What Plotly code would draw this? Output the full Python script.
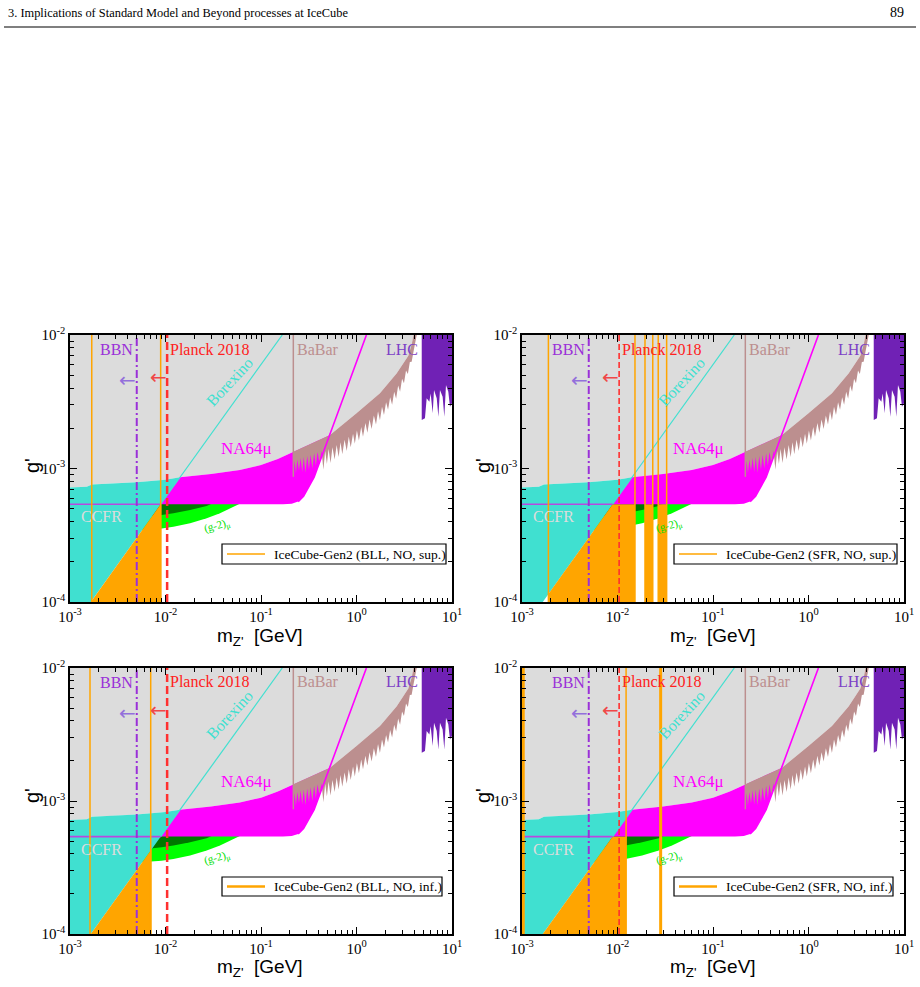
import math
import plotly.graph_objects as go

# ------------------------------------------------------------------ data
# boundaries (m_Z' in GeV, g')
ccfr_top_m = [1e-3, 1.5e-3, 1.7e-3, 3e-3, 5e-3, 0.01, 0.0142]
ccfr_top_g = [7.2e-4, 7.3e-4, 7.6e-4, 7.75e-4, 7.9e-4, 8.25e-4, 8.6e-4]

diag_m = [1.65e-3, 8.9e-3, 0.0142, 0.167]          # CCFR / Borexino edge
diag_g = [1e-4, 5.4e-4, 8.6e-4, 1e-2]

na64_top_m = [0.0142, 0.03, 0.06, 0.1, 0.15, 0.218]
na64_top_g = [8.6e-4, 9.1e-4, 9.75e-4, 1.06e-3, 1.18e-3, 1.336e-3]
na64_floor_m = [8.9e-3, 0.17, 0.21]
na64_floor_g = [5.4e-4, 5.4e-4, 5.45e-4]
na64_line_m = [0.245, 0.279, 0.36, 0.45, 0.528, 0.7, 0.9, 1.27]
na64_line_g = [5.65e-4, 6.2e-4, 8.6e-4, 1.33e-3, 1.85e-3, 3.2e-3, 5.2e-3, 1e-2]
na64_lowline_m = [1e-3, 8.9e-3]
na64_lowline_g = [5.4e-4, 5.4e-4]

babar_top_m = [0.218, 0.3, 0.4, 0.528, 1.0, 1.76, 2.64, 3.49, 3.8, 3.95]
babar_top_g = [1.336e-3, 1.48e-3, 1.63e-3, 1.78e-3, 2.59e-3, 3.66e-3, 5.16e-3, 7.0e-3, 8.6e-3, 1e-2]
babar_low_m = [0.218, 0.225, 0.232, 0.24, 0.25, 0.26, 0.27, 0.28, 0.292, 0.305, 0.318,
               0.33, 0.345, 0.36, 0.375, 0.39, 0.41, 0.43, 0.45, 0.47, 0.49, 0.51, 0.535,
               0.56, 0.59, 0.62, 0.65, 0.68, 0.71, 0.75, 0.79, 0.83, 0.87, 0.92, 0.96,
               1.01, 1.06, 1.12, 1.17, 1.24, 1.3, 1.37, 1.44, 1.52, 1.6, 1.68, 1.76,
               1.85, 1.94, 2.04, 2.14, 2.25, 2.36, 2.48, 2.6, 2.73, 2.86, 3.0, 3.14,
               3.3, 3.45, 3.62, 3.78, 3.95, 4.1, 4.27]
babar_low_g = [8.66e-4, 1.15e-3, 9.2e-4, 1.17e-3, 9.6e-4, 1.2e-3, 9.4e-4, 1.22e-3,
               9.3e-4, 1.24e-3, 9.8e-4, 1.27e-3, 1.0e-3, 1.3e-3, 1.05e-3, 1.33e-3,
               1.1e-3, 1.37e-3, 0.98e-3, 1.35e-3, 1.08e-3, 1.4e-3, 1.1e-3, 1.44e-3,
               1.17e-3, 1.5e-3, 1.22e-3, 1.57e-3, 1.28e-3, 1.64e-3, 1.35e-3, 1.73e-3,
               1.44e-3, 1.82e-3, 1.53e-3, 1.93e-3, 1.62e-3, 2.05e-3, 1.73e-3, 2.19e-3,
               1.85e-3, 2.33e-3, 1.98e-3, 2.49e-3, 2.14e-3, 2.68e-3, 2.3e-3, 2.9e-3,
               2.52e-3, 3.14e-3, 2.75e-3, 3.42e-3, 3.0e-3, 3.75e-3, 3.33e-3, 4.18e-3,
               3.75e-3, 4.7e-3, 4.35e-3, 5.42e-3, 5.1e-3, 6.27e-3, 6.3e-3, 7.5e-3,
               8.8e-3, 1e-2]
babar_line_m = [0.218, 0.218]
babar_line_g = [8.66e-4, 1e-2]

lhc_m = [4.82, 10, 10, 9.52, 9.15, 8.65, 8.31, 7.98, 7.48, 7.2, 6.92, 6.48, 6.28,
         5.98, 5.79, 5.43, 5.21, 4.82]
lhc_g = [1e-2, 1e-2, 3.08e-3, 2.9e-3, 3.76e-3, 4.22e-3, 2.44e-3, 3.45e-3, 3.87e-3,
         2.44e-3, 3.36e-3, 3.87e-3, 2.59e-3, 3.65e-3, 3.16e-3, 3.36e-3, 2.38e-3, 2.31e-3]

g2_light_m = [1e-3, 5e-3, 9.12e-3, 0.0121, 0.0181, 0.027, 0.0372, 0.0473, 0.0557, 0.06, 1e-3]
g2_light_g = [3.4e-4, 3.45e-4, 3.56e-4, 3.66e-4, 3.89e-4, 4.24e-4, 4.62e-4, 5.03e-4,
              5.33e-4, 5.45e-4, 5.45e-4]
g2_dark_m = [1e-3, 7e-3, 9.12e-3, 0.0121, 0.0181, 0.027, 0.0304, 1e-3]
g2_dark_g = [4.3e-4, 4.4e-4, 4.49e-4, 4.62e-4, 4.89e-4, 5.24e-4, 5.45e-4, 5.45e-4]

bbn_m = 5.0e-3
planck_m = 0.0104

# IceCube-Gen2 sensitivities, one per panel
p1_label = "IceCube-Gen2 (BLL, NO, sup.)"
p1_lines_m = [1.69e-3, 8.9e-3]
p1_thick_m = []
p1_fill_m = [1.69e-3, 1.69e-3, 8.9e-3, 9.05e-3, 9.05e-3]
p1_fill_g = [1e-4, 1.02e-4, 5.4e-4, 5.4e-4, 1e-4]

p2_label = "IceCube-Gen2 (SFR, NO, sup.)"
p2_lines_m = [1.89e-3, 0.01524, 0.0194, 0.0234, 0.0267, 0.0327]
p2_thick_m = []
p2_fill_m = [1.89e-3, 1.89e-3, 8.9e-3, 0.01524, 0.01524, None,
             0.0194, 0.0194, 0.0234, 0.0234, None,
             0.0267, 0.0267, 0.0327, 0.0327]
p2_fill_g = [1e-4, 1.15e-4, 5.4e-4, 5.4e-4, 1e-4, None,
             1e-4, 5.4e-4, 5.4e-4, 1e-4, None,
             1e-4, 5.4e-4, 5.4e-4, 1e-4]

p3_label = "IceCube-Gen2 (BLL, NO, inf.)"
p3_lines_m = [1.62e-3, 7.0e-3]
p3_thick_m = []
p3_fill_m = [1.65e-3, 7.15e-3, 7.15e-3]
p3_fill_g = [1e-4, 4.33e-4, 1e-4]

p4_label = "IceCube-Gen2 (SFR, NO, inf.)"
p4_lines_m = [0.0123]
p4_thick_m = [1.03e-3, 0.0283]
p4_fill_m = [1.65e-3, 8.9e-3, 0.0124, 0.0124]
p4_fill_g = [1e-4, 5.4e-4, 5.4e-4, 1e-4]

x_tickvals = [1e-3, 1e-2, 1e-1, 1, 10]
x_ticktext = ["10<sup>-3</sup>", "10<sup>-2</sup>", "10<sup>-1</sup>", "10<sup>0</sup>", "10<sup>1</sup>"]
y_tickvals = [1e-4, 1e-3, 1e-2]
y_ticktext = ["10<sup>-4</sup>", "10<sup>-3</sup>", "10<sup>-2</sup>"]

# ------------------------------------------------------------------ style
W, H = 920, 987
GRAY = "#dcdcdc"
CYAN = "#40e0d0"
MAG = "#ff00ff"
ORANGE = "#ffa500"
LGREEN = "#00ff00"
DGREEN = "#007800"
BROWN = "#bc8f8f"
LHCCOL = "#7021b5"
SERIF = "Liberation Serif"
SANS = "Liberation Sans"

panels = [
    dict(label=p1_label, lines=p1_lines_m, thick=p1_thick_m, fm=p1_fill_m, fg=p1_fill_g,
         pw=2.5, dash="8px,4px", legw=1.5),
    dict(label=p2_label, lines=p2_lines_m, thick=p2_thick_m, fm=p2_fill_m, fg=p2_fill_g,
         pw=1.6, dash="6px,3px", legw=1.5),
    dict(label=p3_label, lines=p3_lines_m, thick=p3_thick_m, fm=p3_fill_m, fg=p3_fill_g,
         pw=2.5, dash="8px,4px", legw=2.5),
    dict(label=p4_label, lines=p4_lines_m, thick=p4_thick_m, fm=p4_fill_m, fg=p4_fill_g,
         pw=1.6, dash="6px,3px", legw=2.5),
]
ids = ["", "2", "3", "4"]
x_dom = [[70 / W, 452 / W], [522 / W, 904 / W], [70 / W, 452 / W], [522 / W, 904 / W]]
y_dom = [[1 - 602 / H, 1 - 335 / H], [1 - 602 / H, 1 - 335 / H],
         [1 - 934 / H, 1 - 668 / H], [1 - 934 / H, 1 - 668 / H]]
# legend boxes in pixels: left, top, right, bottom
legend_box = [(222, 544, 446, 564), (674, 544, 897, 564),
              (222, 877, 442, 896), (674, 877, 893, 896)]
ytitle_pos = [(32, 466), (483, 466), (32, 796), (483, 796)]
xtitle_pos = [(260, 637), (713, 637), (260, 968), (713, 968)]

fig = go.Figure()
annotations = []
shapes = []
minor_x = [k * 10 ** e for e in range(-3, 1) for k in range(2, 10)]
minor_y = [k * 10 ** e for e in range(-4, -2) for k in range(2, 10)]


def rev(a):
    return list(reversed(a))


def px(xp):
    return xp / W


def py(yp):
    return 1 - yp / H


for i, (pid, p) in enumerate(zip(ids, panels)):
    xa, ya = "x" + pid, "y" + pid

    def poly(mm, gg, color):
        fig.add_trace(go.Scatter(x=mm, y=gg, mode="lines", fill="toself", fillcolor=color,
                                 line=dict(width=0, color=color), xaxis=xa, yaxis=ya,
                                 showlegend=False, hoverinfo="skip"))

    def line(mm, gg, color, width, dash="solid", name=None):
        fig.add_trace(go.Scatter(x=mm, y=gg, mode="lines", line=dict(color=color, width=width, dash=dash),
                                 xaxis=xa, yaxis=ya, showlegend=False, hoverinfo="skip",
                                 name=name))

    # gray excluded area
    gm = [1e-3] + ccfr_top_m + na64_top_m[1:] + babar_top_m[1:]
    gg = [1e-2] + ccfr_top_g + na64_top_g[1:] + babar_top_g[1:]
    poly(gm, gg, GRAY)
    # (g-2) bands
    poly(g2_light_m, g2_light_g, LGREEN)
    poly(g2_dark_m, g2_dark_g, DGREEN)
    # CCFR
    cm = [1e-3, diag_m[0], diag_m[2]] + rev(ccfr_top_m)
    cg = [1e-4, diag_g[0], diag_g[2]] + rev(ccfr_top_g)
    poly(cm, cg, CYAN)
    # IceCube-Gen2 filled region
    poly(p["fm"], p["fg"], ORANGE)
    # NA64mu
    nm = na64_top_m + babar_top_m[1:4] + na64_line_m[4:5] + rev(na64_line_m[:4]) + rev(na64_floor_m)
    ng = na64_top_g + babar_top_g[1:4] + na64_line_g[4:5] + rev(na64_line_g[:4]) + rev(na64_floor_g)
    poly(nm, ng, MAG)
    # BaBar
    poly(babar_top_m + rev(babar_low_m), babar_top_g + rev(babar_low_g), BROWN)
    # LHC
    poly(lhc_m, lhc_g, LHCCOL)
    # lines
    line(babar_line_m, babar_line_g, BROWN, 1.5)
    line(diag_m[1:], diag_g[1:], CYAN, 1.2)
    line(na64_line_m, na64_line_g, MAG, 1.6)
    line(na64_lowline_m, na64_lowline_g, "#b848e0", 1.6)

    # IceCube-Gen2 vertical lines
    vm, vg = [], []
    for m in p["lines"]:
        vm += [m, m, None]
        vg += [1e-4, 1e-2, None]
    tm, tg = [], []
    for m in p["thick"]:
        tm += [m, m, None]
        tg += [1e-4, 1e-2, None]
    if vm:
        line(vm, vg, ORANGE, 1.5, name=p["label"])
    if tm:
        line(tm, tg, ORANGE, 3, name=p["label"])

    # BBN and Planck
    line([bbn_m, bbn_m], [1e-4, 1e-2], "#9a30d8", 2, "8px,3px,2px,3px")
    line([planck_m, planck_m], [1e-4, 1e-2], "#ff3030", p["pw"], p["dash"])

    # labels
    def lab(text, m, g, color, size=16, anchor="center", angle=0, family=SERIF):
        annotations.append(dict(text=text, x=math.log10(m), y=math.log10(g), xref=xa, yref=ya,
                                showarrow=False, xanchor=anchor, yanchor="middle", textangle=angle,
                                font=dict(family=family, size=size, color=color)))

    lab("BBN", 4.8e-3, 7.73e-3, "#9a30d8", anchor="right")
    lab("Planck 2018", 0.0106, 7.85e-3, "#ff2020", anchor="left")
    lab("BaBar", 0.395, 7.85e-3, BROWN)
    lab("LHC", 2.99, 7.85e-3, "#7d3fc6")
    lab("Borexino", 0.0473, 4.45e-3, CYAN, angle=-47)
    lab("NA64μ", 0.0713, 1.4e-3, MAG, size=17)
    lab("CCFR", 2.16e-3, 4.34e-4, "#dcdcdc")
    lab("(g-2)<sub>μ</sub>", 0.0346, 3.72e-4, "#00e000", size=11, angle=-15)
    lab("←", 4.0e-3, 4.6e-3, "#9370db", size=20, family="DejaVu Sans")
    lab("←", 8.45e-3, 4.84e-3, "#f04848", size=20, family="DejaVu Sans")

    # legend box
    l, t, r, b = legend_box[i]
    mid = (t + b) / 2
    shapes.append(dict(type="rect", xref="paper", yref="paper", x0=px(l), x1=px(r), y0=py(b), y1=py(t),
                       fillcolor="white", line=dict(color="black", width=1.2), layer="above"))
    shapes.append(dict(type="line", xref="paper", yref="paper", x0=px(l + 5), x1=px(l + 43),
                       y0=py(mid), y1=py(mid), line=dict(color=ORANGE, width=p["legw"]), layer="above"))
    annotations.append(dict(text=p["label"], x=px(l + 50), y=py(mid), xref="paper", yref="paper",
                            showarrow=False, xanchor="left", yanchor="middle",
                            font=dict(family=SERIF, size=13.5, color="black")))

    # axis titles
    xt, yt = ytitle_pos[i]
    annotations.append(dict(text="g'", x=px(xt), y=py(yt), xref="paper", yref="paper",
                            showarrow=False, textangle=-90, xanchor="center", yanchor="middle",
                            font=dict(family=SANS, size=20, color="black")))
    xt, yt = xtitle_pos[i]
    annotations.append(dict(text="m<sub>Z'</sub>  [GeV]", x=px(xt), y=py(yt), xref="paper", yref="paper",
                            showarrow=False, xanchor="center", yanchor="middle",
                            font=dict(family=SANS, size=19, color="black")))

axis_common = dict(type="log", showline=True, linecolor="black", linewidth=1.5, mirror="allticks",
                   ticks="inside", ticklen=7, tickwidth=1.2, tickcolor="black", showgrid=False,
                   zeroline=False, automargin=False,
                   tickfont=dict(family=SERIF, size=15, color="black"))

layout = dict(width=W, height=H, margin=dict(l=0, r=0, t=0, b=0),
              paper_bgcolor="white", plot_bgcolor="white", showlegend=False)
for i, pid in enumerate(ids):
    layout["xaxis" + pid] = dict(axis_common, domain=x_dom[i], range=[-3, 1], anchor="y" + pid,
                                 tickmode="array", tickvals=x_tickvals, ticktext=x_ticktext,
                                 minor=dict(ticks="inside", ticklen=4, tickwidth=1, tickcolor="black",
                                            tickmode="array", tickvals=minor_x, showgrid=False))
    layout["yaxis" + pid] = dict(axis_common, domain=y_dom[i], range=[-4, -2], anchor="x" + pid,
                                 tickmode="array", tickvals=y_tickvals, ticktext=y_ticktext,
                                 minor=dict(ticks="inside", ticklen=4, tickwidth=1, tickcolor="black",
                                            tickmode="array", tickvals=minor_y, showgrid=False))

# page header
annotations.append(dict(text="3. Implications of Standard Model and Beyond processes at IceCube",
                        x=px(6), y=py(13), xref="paper", yref="paper", showarrow=False,
                        xanchor="left", yanchor="middle", font=dict(family=SERIF, size=12.4, color="black")))
annotations.append(dict(text="89", x=px(906), y=py(13), xref="paper", yref="paper", showarrow=False,
                        xanchor="right", yanchor="middle", font=dict(family=SERIF, size=14, color="black")))
shapes.append(dict(type="line", xref="paper", yref="paper", x0=px(4), x1=px(916),
                   y0=py(27), y1=py(27), line=dict(color="black", width=1.2)))
layout["shapes"] = shapes
layout["annotations"] = annotations
fig.update_layout(**layout)
fig.write_html("out.html")
